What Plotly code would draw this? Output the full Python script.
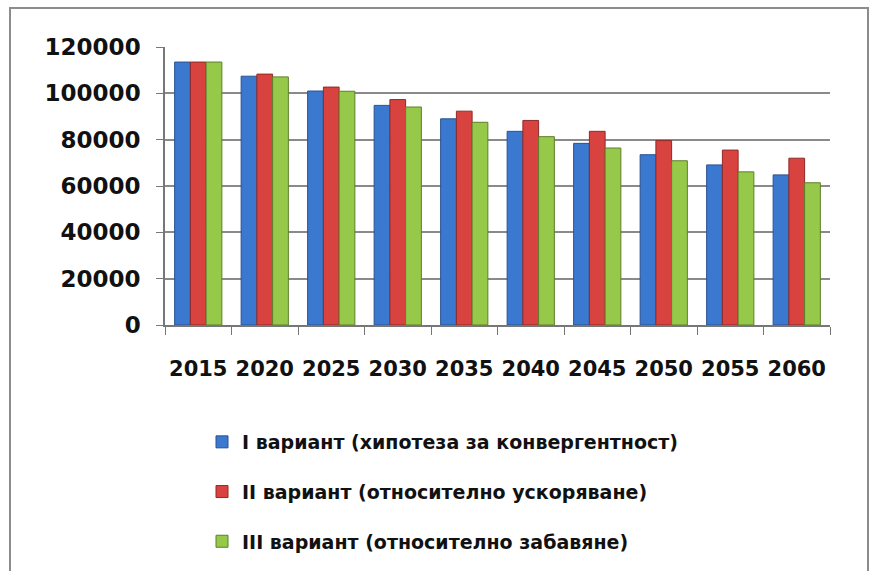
import plotly.graph_objects as go

years = ["2015", "2020", "2025", "2030", "2035", "2040", "2045", "2050", "2055", "2060"]
variant_1 = [113500, 107400, 101000, 94800, 89000, 83600, 78400, 73500, 69100, 64800]
variant_2 = [113500, 108300, 102700, 97300, 92300, 88300, 83600, 79600, 75500, 72000]
variant_3 = [113500, 107100, 100900, 94100, 87500, 81300, 76400, 70900, 66100, 61400]
names = ["I вариант (хипотеза за конвергентност)",
         "II вариант (относително ускоряване)",
         "III вариант (относително забавяне)"]
colors = ["#3B78CF", "#D9433F", "#96C84A"]
edges = ["#2A5290", "#8E2A28", "#5E7F2A"]
y_ticks = [0, 20000, 40000, 60000, 80000, 100000, 120000]

fig = go.Figure()
for i, vals in enumerate([variant_1, variant_2, variant_3]):
    fig.add_trace(go.Bar(
        x=years, y=vals, name=names[i],
        marker=dict(color=colors[i], line=dict(color=edges[i], width=1)),
        legendgroup=f"g{i}",
    ))

W, H = 874, 571
ml, mr, mt, mb = 165, 44, 47, 246
pw, ph = W - ml - mr, H - mt - mb

def px(x):
    return (x - ml) / pw

def py(y):
    return (H - mb - y) / ph

fig.update_layout(
    width=W, height=H,
    margin=dict(l=ml, r=mr, t=mt, b=mb, autoexpand=False),
    paper_bgcolor="white", plot_bgcolor="white",
    barmode="group", bargap=0.29, bargroupgap=0,
    font=dict(family="DejaVu Sans", color="#111111"),
    showlegend=True,
    legend=dict(
        xref="container", yref="container",
        x=202 / W, y=1 - 423 / H, xanchor="left", yanchor="top",
        orientation="v", tracegroupgap=22,
        font=dict(family="DejaVu Sans", size=19, color="#111111", weight="bold"),
        bgcolor="rgba(0,0,0,0)",
    ),
    xaxis=dict(
        type="category", showgrid=False,
        showline=True, linecolor="#777777", linewidth=1.5,
        ticks="outside", tickson="boundaries", ticklen=8, tickcolor="#777777",
        tickangle=0,
        tickfont=dict(family="DejaVu Sans", size=21, color="#111111", weight="bold"),
        ticklabelstandoff=24,
    ),
    yaxis=dict(
        range=[0, 120000], tickvals=y_ticks, ticktext=[str(v) for v in y_ticks],
        showgrid=True, gridcolor="#8A8A8A", gridwidth=1.5,
        showline=True, linecolor="#777777", linewidth=1.5,
        ticks="outside", ticklen=7, tickcolor="#777777",
        tickfont=dict(family="DejaVu Sans", size=23, color="#111111", weight="bold"),
        ticklabelstandoff=11, zeroline=False,
    ),
    shapes=[dict(
        type="rect", xref="paper", yref="paper",
        x0=px(10), x1=px(868), y0=py(575), y1=py(8),
        line=dict(color="#8C8C8C", width=2), fillcolor="rgba(0,0,0,0)",
        layer="below",
    )],
)

fig.write_html("out.html", config={"displayModeBar": False},
               post_script="document.body.style.margin='0';")
